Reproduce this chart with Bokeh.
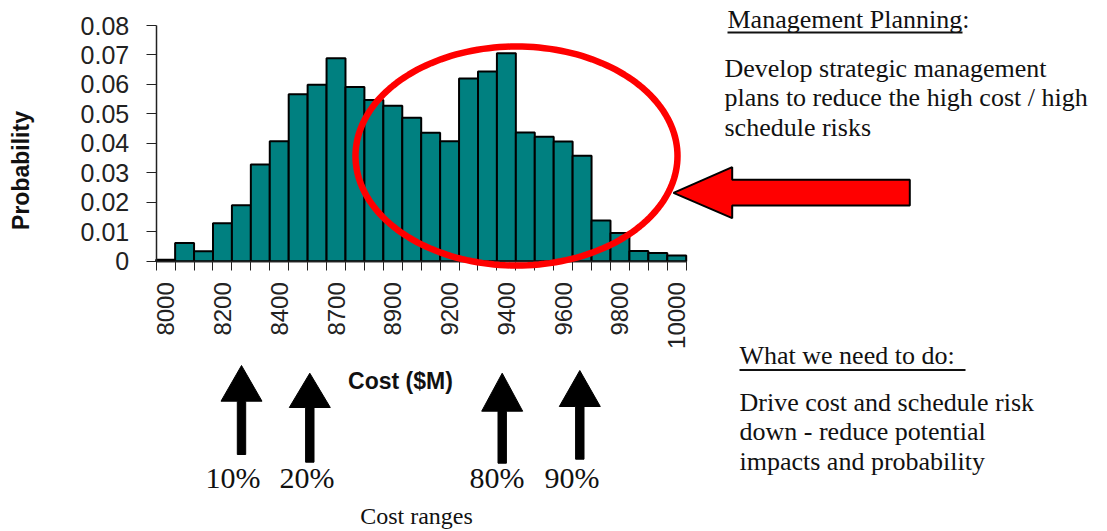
import numpy as np
from bokeh.plotting import figure
from bokeh.models import Range1d, FixedTicker, NumeralTickFormatter, Label, PolyAnnotation
from bokeh.embed import file_html
from bokeh.resources import INLINE

# ---------------- data ----------------
probabilities = [0.0005, 0.0062, 0.0034, 0.0129, 0.0190, 0.0328, 0.0407, 0.0567,
                 0.0599, 0.0689, 0.0591, 0.0547, 0.0528, 0.0487, 0.0436, 0.0407,
                 0.0620, 0.0644, 0.0706, 0.0437, 0.0422, 0.0406, 0.0358, 0.0138,
                 0.0096, 0.0035, 0.0028, 0.0019]
cost_tick_labels = ["8000", "8200", "8400", "8700", "8900", "9200", "9400", "9600", "9800", "10000"]
label_every = 3
y_ticks = [0, 0.01, 0.02, 0.03, 0.04, 0.05, 0.06, 0.07, 0.08]
y_max = 0.08
percentile_labels = ["10%", "20%", "80%", "90%"]

n = len(probabilities)
bins = list(range(n))

# ---------------- layout (canvas pixels) ----------------
W, H = 1107, 531
FL, FR, FT, FB = 155.7, 685.7, 25.0, 260.7   # histogram area edges in pixels

sx = n / (FR - FL)            # data units per pixel (x)
sy = y_max / (FB - FT)        # data units per pixel (y)
x0 = -0.5 - FL * sx
y1 = y_max + FT * sy

p = figure(width=W, height=H, title=None,
           x_range=Range1d(x0, x0 + W * sx), y_range=Range1d(y1 - H * sy, y1),
           output_backend="svg", toolbar_location=None,
           min_border=0, min_border_left=0, min_border_right=0,
           min_border_top=0, min_border_bottom=0)
p.outline_line_color = None
p.xgrid.visible = False
p.ygrid.visible = False
p.background_fill_color = "white"
p.border_fill_color = "white"

def dx(px):
    return x0 + px * sx

def dy(py):
    return y1 - py * sy

# bars
p.vbar(x=bins, top=probabilities, width=1.0, bottom=0,
       fill_color="#008080", line_color="black", line_width=2)

# x axis
label_pos = list(range(0, n, label_every))[:len(cost_tick_labels)]
xa = p.xaxis[0]
xa.fixed_location = 0
xa.bounds = (-0.5, n - 0.5)
xa.ticker = FixedTicker(ticks=label_pos, minor_ticks=[i - 0.5 for i in range(n + 1)])
xa.major_label_overrides = {pos: lab for pos, lab in zip(label_pos, cost_tick_labels)}
xa.major_label_orientation = np.pi / 2
xa.major_tick_out = 0
xa.major_tick_in = 0
xa.minor_tick_out = 9
xa.minor_tick_in = 0
xa.minor_tick_line_color = "#222222"
xa.minor_tick_line_width = 1
xa.axis_line_color = "#222222"
xa.axis_line_width = 1.5
xa.major_label_standoff = 12
xa.major_label_text_font = "Liberation Sans"
xa.major_label_text_font_size = "24px"
xa.major_label_text_color = "#222222"

# y axis
ya = p.yaxis[0]
ya.fixed_location = -0.5
ya.bounds = (0, y_max)
ya.ticker = FixedTicker(ticks=y_ticks)
ya.formatter = NumeralTickFormatter(format="0.[00]")
ya.major_tick_out = 10
ya.major_tick_in = 0
ya.minor_tick_out = 0
ya.minor_tick_in = 0
ya.major_tick_line_color = "#222222"
ya.axis_line_color = "#222222"
ya.axis_line_width = 1.5
ya.major_label_standoff = 17
ya.major_label_text_font = "Liberation Sans"
ya.major_label_text_font_size = "25px"
ya.major_label_text_color = "#222222"

BASE_FIX = 0.37   # baseline correction (fraction of font size)

def add_text(text, px, py, font, size, bold=False, rotated=False, align="left"):
    if rotated:
        px = px - BASE_FIX * size
    else:
        py = py - BASE_FIX * size
    p.add_layout(Label(x=dx(px), y=dy(py), text=text, text_font=font,
                       text_font_size=f"{size}px",
                       text_font_style="bold" if bold else "normal",
                       text_color="#111111", angle=np.pi / 2 if rotated else 0.0,
                       text_align=align, text_baseline="alphabetic"))

def add_poly(pts, fill, line=None, lw=1.0):
    xs = [dx(a) for a, b in pts]
    ys = [dy(b) for a, b in pts]
    p.add_layout(PolyAnnotation(xs=xs, ys=ys,
                                fill_color=fill if fill else "white",
                                fill_alpha=1.0 if fill else 0.0,
                                line_color=line if line else "black",
                                line_alpha=1.0 if line else 0.0,
                                line_width=lw))

# axis titles
add_text("Probability", 29, 170, "Liberation Sans", 23, bold=True, rotated=True, align="center")
add_text("Cost ($M)", 400, 389, "Liberation Sans", 23, bold=True, align="center")

# red ellipse
t = np.linspace(0, 2 * np.pi, 181)
cx, cy, ra, rb = 516, 155.5, 161, 109.5
ell = [(cx + ra * np.cos(a), cy + rb * np.sin(a)) for a in t]
add_poly(ell, None, line="#ff0000", lw=6.5)

# red arrow pointing left
red = [(673, 192.3), (731.7, 166.7), (731.7, 179.3), (909.3, 179.3),
       (909.3, 205), (731.7, 205), (731.7, 217.7)]
add_poly(red, "#ff0000", line="black", lw=2)

# black up arrows
def up_arrow(x, tip, base, bottom, hw=20.5, sw=4.2):
    return [(x, tip), (x + hw, base), (x + sw, base), (x + sw, bottom),
            (x - sw, bottom), (x - sw, base), (x - hw, base)]

arrow_specs = [(241, 365, 400.7, 454), (309.3, 372.7, 407, 461.7),
               (501.7, 372.7, 410.7, 462.7), (579.3, 370, 406, 458.7)]
for spec in arrow_specs:
    add_poly(up_arrow(*spec), "black", line="black", lw=1)

# percentile labels
pct_x = [205, 279, 469, 544]
for lab, xp in zip(percentile_labels, pct_x):
    add_text(lab, xp, 488, "Liberation Serif", 30)
add_text("Cost ranges", 416, 524, "Liberation Serif", 24, align="center")

# right-side notes
add_text("Management Planning:", 727, 28.3, "Liberation Serif", 26)
add_poly([(727, 31), (962, 31), (962, 33), (727, 33)], "#111111", line=None)
for i, line in enumerate(["Develop strategic management",
                          "plans to reduce the high cost / high",
                          "schedule risks"]):
    add_text(line, 724, 77.3 + 29.7 * i, "Liberation Serif", 26)

add_text("What we need to do:", 739, 365, "Liberation Serif", 26)
add_poly([(739, 368.5), (965, 368.5), (965, 370.5), (739, 370.5)], "#111111", line=None)
for i, line in enumerate(["Drive cost and schedule risk",
                          "down - reduce potential",
                          "impacts and probability"]):
    add_text(line, 739, 411.7 + 29.3 * i, "Liberation Serif", 26)

open("out.html", "w").write(file_html(p, INLINE))
